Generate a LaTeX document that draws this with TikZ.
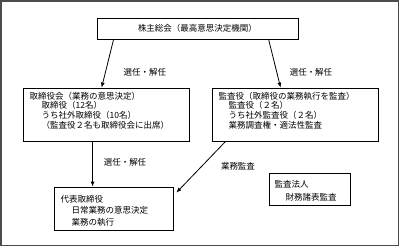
\documentclass[tikz,border=0pt]{standalone}
\usepackage{fontspec}
\setmainfont{Noto Sans CJK JP}
\usetikzlibrary{arrows.meta,calc}
\begin{document}
\begin{tikzpicture}[x=1pt,y=-1pt,
  box/.style={draw,line width=0.8pt,inner sep=0pt},
  txt/.style={inner sep=0pt,align=left,anchor=north west},
  lbl/.style={inner sep=0pt,font=\fontsize{8.5}{10}\selectfont},
  arr/.style={-{Latex[length=5pt,width=4pt]},line width=0.8pt}]
\useasboundingbox (0,0) rectangle (400,247);
\draw[line width=1.2pt,black!70] (1,1) rectangle (398.5,245.5);
% boxes
\node[box,minimum width=201pt,minimum height=21pt,font=\fontsize{8.5}{10}\selectfont] (top) at (197.5,28.5) {株主総会（最高意思決定機関）};
\node[box,minimum width=166pt,minimum height=53pt] (board) at (106,114.5) {};
\node[box,minimum width=166pt,minimum height=53pt] (audit) at (295,114.5) {};
\node[box,minimum width=119pt,minimum height=43pt] (rep) at (113.5,208.5) {};
\node[box,minimum width=81pt,minimum height=32pt] (firm) at (309.5,189) {};
% texts
\node[txt,font=\fontsize{8.5}{9.7}\selectfont] (boardtxt) at (29.5,91.75)
  {取締役会（業務の意思決定）\\\hspace*{12pt}取締役（12名）\\\hspace*{12pt}うち社外取締役（10名）\\\hspace*{12pt}（監査役２名も取締役会に出席）};
\node[txt,font=\fontsize{8.5}{9.7}\selectfont] (audittxt) at (218.5,91.75)
  {監査役（取締役の業務執行を監査）\\\hspace*{10pt}監査役（２名）\\\hspace*{10pt}うち社外監査役（２名）\\\hspace*{10pt}業務調査権・適法性監査};
\node[txt,font=\fontsize{8.5}{11.5}\selectfont] (reptxt) at (60.5,194.75)
  {代表取締役\\\hspace*{11pt}日常業務の意思決定\\\hspace*{11pt}業務の執行};
\node[txt,font=\fontsize{8.5}{13}\selectfont] (firmtxt) at (274.5,179.75)
  {監査法人\\\hspace*{11pt}財務諸表監査};
% labels
\node[lbl] (l1) at (145,72) {選任・解任};
\node[lbl] (l2) at (311,72) {選任・解任};
\node[lbl] (l3) at (125,162.5) {選任・解任};
\node[lbl] (l4) at (238,166.5) {業務監査};
% arrows
\draw[arr] ($(top.south west)+(17,0)$) -- ($(board.north west)+(79,0)$);
\draw[arr] ($(top.south west)+(172,0)$) -- ($(audit.north west)+(69,0)$);
\draw[arr] ($(board.south west)+(70,0)$) -- ($(rep.north west)+(39,0)$);
\draw[arr] ($(audit.south west)+(14,0)$) -- ($(rep.north east)+(3,6)$);
\end{tikzpicture}
\end{document}
